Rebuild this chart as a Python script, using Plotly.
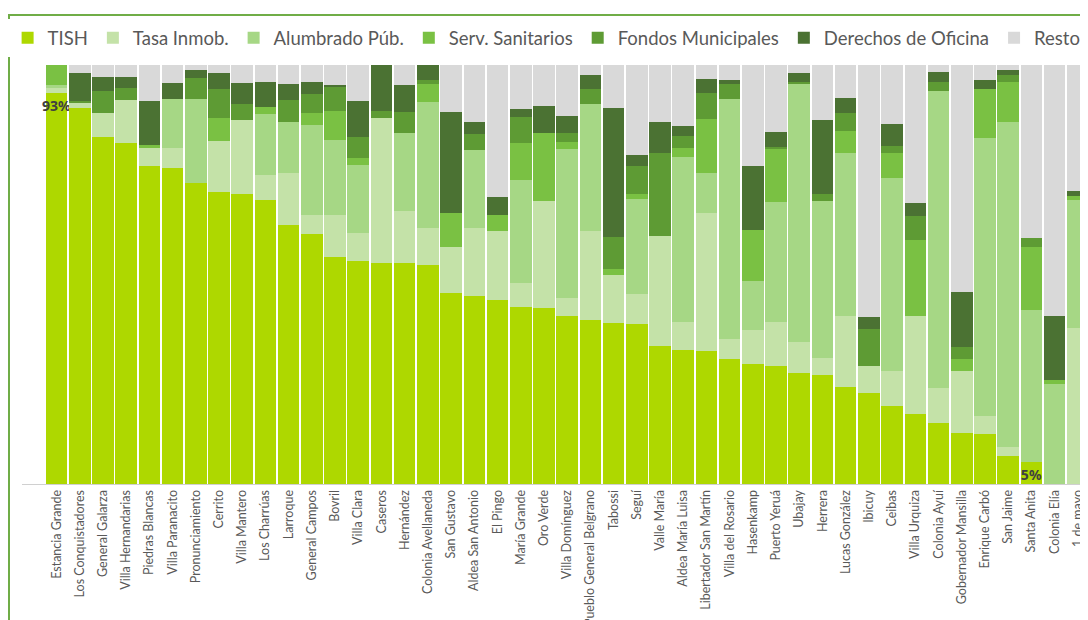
import plotly.graph_objects as go

municipios = ["Estancia Grande", "Los Conquistadores", "General Galarza", "Villa Hernandarias",
              "Piedras Blancas", "Villa Paranacito", "Pronunciamiento", "Cerrito", "Villa Mantero",
              "Los Charrúas", "Larroque", "General Campos", "Bovril", "Villa Clara", "Caseros",
              "Hernández", "Colonia Avellaneda", "San Gustavo", "Aldea San Antonio", "El Pingo",
              "María Grande", "Oro Verde", "Villa Domínguez", "Pueblo General Belgrano", "Tabossi",
              "Seguí", "Valle María", "Aldea María Luisa", "Libertador San Martín", "Villa del Rosario",
              "Hasenkamp", "Puerto Yeruá", "Ubajay", "Herrera", "Lucas González", "Ibicuy", "Ceibas",
              "Villa Urquiza", "Colonia Ayuí", "Gobernador Mansilla", "Enrique Carbó", "San Jaime",
              "Santa Anita", "Colonia Elía", "1 de mayo"]

tish = [93.4, 89.8, 82.7, 81.5, 75.9, 75.5, 71.9, 69.6, 69.4, 67.8, 61.8, 59.7, 54.1, 53.2, 52.7,
        52.7, 52.4, 45.5, 44.9, 43.8, 42.2, 41.9, 40.1, 39.1, 38.5, 38.2, 32.9, 32.0, 31.7, 29.8,
        28.6, 28.2, 26.6, 26.0, 23.2, 21.6, 18.7, 16.7, 14.6, 12.3, 11.9, 6.8, 5.2, 0, 0]
tasa = [1.0, 1.2, 5.7, 10.1, 4.2, 4.6, 0, 12.3, 17.5, 6.1, 12.3, 4.5, 10.1, 6.8, 34.8,
        12.6, 8.8, 11.1, 16.2, 16.6, 5.9, 25.7, 4.4, 21.3, 11.4, 7.1, 26.3, 6.6, 32.9, 4.9,
        8.1, 10.4, 7.4, 4.1, 16.9, 6.5, 8.3, 23.4, 8.4, 14.7, 4.4, 2.1, 0, 0, 37.3]
alumbrado = [0.9, 0, 0, 0, 0, 11.9, 19.9, 0, 0, 14.6, 12.3, 21.3, 17.9, 16.2, 0,
             18.6, 30.1, 0, 18.7, 0, 24.5, 0, 35.5, 30.2, 0, 22.9, 0, 39.5, 9.7, 57.2,
             11.7, 28.6, 61.4, 37.5, 39.0, 0, 46.2, 0, 70.8, 0, 66.3, 77.6, 36.4, 23.8, 30.6]
sanitarios = [4.7, 0, 0, 0, 0.8, 0, 0, 5.3, 0, 1.6, 0, 2.9, 6.9, 1.7, 0,
              0, 4.2, 8.0, 0, 3.7, 8.9, 16.1, 1.8, 0, 1.4, 1.0, 0, 2.0, 12.7, 0,
              12.2, 12.7, 0, 0, 5.3, 0, 5.9, 18.3, 0, 2.8, 11.8, 9.5, 15.1, 1.0, 0.8]
fondos = [0, 0.5, 5.4, 2.8, 0, 0, 5.0, 7.0, 4.0, 0, 5.2, 4.5, 5.8, 4.8, 1.6,
          5.0, 1.0, 0, 3.7, 0, 6.2, 0, 2.0, 3.7, 7.8, 6.8, 19.8, 3.0, 6.4, 3.7,
          0, 0.6, 0.6, 1.6, 4.3, 8.8, 1.7, 5.6, 2.0, 3.0, 0, 1.6, 2.0, 0, 0]
derechos = [0, 6.5, 3.3, 2.8, 10.6, 3.6, 2.0, 3.7, 4.8, 6.0, 3.8, 2.9, 0.4, 8.7, 11.0,
            6.4, 3.6, 24.1, 2.8, 4.5, 1.8, 6.4, 4.0, 3.3, 30.8, 2.5, 7.2, 2.4, 3.3, 0.8,
            15.3, 3.4, 2.0, 17.7, 3.6, 2.9, 5.1, 3.2, 2.5, 13.0, 2.1, 1.2, 0, 15.4, 1.2]
resto = [0, 2.0, 2.8, 2.8, 8.5, 4.4, 1.2, 2.0, 4.4, 4.0, 4.5, 4.1, 4.8, 8.6, 0,
         4.8, 0, 11.3, 13.7, 31.4, 10.6, 9.9, 12.3, 2.4, 10.2, 21.6, 13.7, 14.5, 3.3, 3.7,
         24.1, 16.1, 2.0, 13.1, 7.8, 60.1, 14.2, 32.9, 1.6, 54.3, 3.6, 1.2, 41.4, 59.8, 30.1]

# only the max and min of TISH get a label
tish_labels = ["93%"] + [""] * 41 + ["5%", "", ""]

series = [
    ("TISH", tish, "#AED800"),
    ("Tasa Inmob.", tasa, "#C4E2A8"),
    ("Alumbrado Púb.", alumbrado, "#A6D785"),
    ("Serv. Sanitarios", sanitarios, "#7AC143"),
    ("Fondos Municipales", fondos, "#5E9B34"),
    ("Derechos de Oficina", derechos, "#4B7233"),
    ("Resto", resto, "#D9D9D9"),
]

fig = go.Figure()
for name, vals, color in series:
    bar = go.Bar(x=municipios, y=vals, name=name, marker_color=color, marker_line_width=0)
    if name == "TISH":
        bar.text = tish_labels
        bar.textposition = "inside"
        bar.insidetextanchor = "end"
        bar.textangle = 0
        bar.constraintext = "none"
        bar.textfont = dict(family="Noto Sans", size=14, color="#404040", weight="bold")
    fig.add_trace(bar)

# green frame around the chart (page has an 8px body margin)
fig.add_shape(type="rect", xref="paper", yref="paper",
              x0=-0.0122, x1=1.05, y0=-0.4, y1=1.1193,
              line=dict(color="#70AD47", width=2), fillcolor="rgba(0,0,0,0)")

fig.update_layout(
    width=1080, height=612,
    barmode="stack", barnorm="percent", bargap=0.07,
    plot_bgcolor="white", paper_bgcolor="white",
    margin=dict(l=14, r=0, t=57, b=136, autoexpand=False),
    font=dict(family="Lato", color="#595959"),
    showlegend=True,
    legend=dict(orientation="h", x=-0.0135, xanchor="left", y=1.064, yanchor="middle",
                font=dict(size=18.5, color="#595959"), traceorder="normal"),
    xaxis=dict(range=[-1.486, 44.44], tickangle=-90, tickfont=dict(size=12.5, color="#595959"),
               automargin=False, showline=True, linecolor="#D0D0D0", linewidth=1,
               ticks="", showgrid=False),
    yaxis=dict(range=[0, 100], visible=False, showgrid=False, automargin=False),
)

fig.write_html("out.html")
